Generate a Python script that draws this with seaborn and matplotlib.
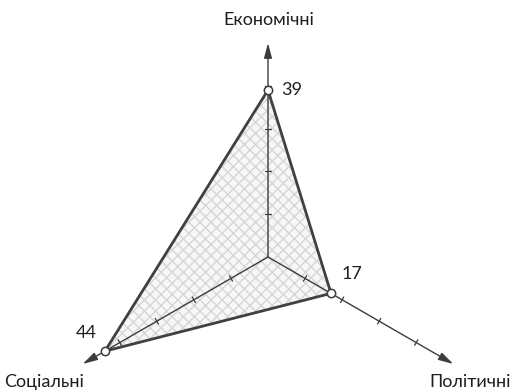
import numpy as np
import pandas as pd
import matplotlib
matplotlib.use("Agg")
import matplotlib.pyplot as plt
import seaborn as sns

categories = ["Економічні", "Політичні", "Соціальні"]
values = [39, 17, 44]
angles_deg = [90, -30, 210]
tick_values = [10, 20, 30, 40]
axis_max = 50

sns.set_theme(style="white")
plt.rcParams["font.family"] = ["Lato", "DejaVu Sans"]
plt.rcParams["hatch.linewidth"] = 1.0

W, H, dpi = 512, 392, 100
scale = 4.28  # px per unit
cx, cy = 268, 257
fig = plt.figure(figsize=(W / dpi, H / dpi), dpi=dpi)
ax = fig.add_axes([0, 0, 1, 1])
ax.set_xlim(-cx / scale, (W - cx) / scale)
ax.set_ylim(-(H - cy) / scale, cy / scale)
ax.set_aspect("equal")
ax.axis("off")

ang = np.deg2rad(angles_deg)
df = pd.DataFrame({
    "category": categories,
    "value": values,
    "x": np.array(values) * np.cos(ang),
    "y": np.array(values) * np.sin(ang),
})

dark = "#3c3c3c"
# polygon fill with checkered hatch
ax.fill(df["x"], df["y"], facecolor="#f7f7f7", hatch="xxx", edgecolor="#d6d6d6",
        linewidth=0, zorder=1)

# axes with arrows
for a in ang:
    ax.annotate("", xy=(axis_max * np.cos(a), axis_max * np.sin(a)), xytext=(0, 0),
                arrowprops=dict(arrowstyle="-|>,head_length=0.75,head_width=0.2",
                                color=dark, lw=1.0, shrinkA=0, shrinkB=0), zorder=2)
    px, py = -np.sin(a), np.cos(a)
    for t in tick_values:
        tx, ty = t * np.cos(a), t * np.sin(a)
        ax.plot([tx - 0.75 * px, tx + 0.75 * px], [ty - 0.75 * py, ty + 0.75 * py],
                color=dark, lw=0.9, zorder=2)

# polygon outline
closed = pd.concat([df, df.iloc[[0]]], ignore_index=True)
sns.lineplot(data=closed, x="x", y="y", sort=False, color="#404040", lw=2.0, ax=ax,
             estimator=None, zorder=3)
sns.scatterplot(data=df, x="x", y="y", s=36, color="white", edgecolor=dark,
                linewidth=1.1, ax=ax, zorder=4)
ax.set_xlabel("")
ax.set_ylabel("")

# value labels
offsets = [(5.6, 0.0), (4.9, 4.5), (-4.3, 4.2)]
for (xv, yv, v), (dx, dy) in zip(df[["x", "y", "value"]].values, offsets):
    ax.text(xv + dx, yv + dy, f"{int(v)}", fontsize=13, color="#1e1e1e",
            ha="center", va="center")

def px2d(x, y):
    return (x - cx) / scale, (cy - y) / scale

lab = [(269, 20), (470, 382), (44, 382)]
for c, (x, y) in zip(categories, lab):
    X, Y = px2d(x, y)
    ax.text(X, Y, c, fontsize=13, color="#1e1e1e", ha="center", va="center")

fig.savefig("out.png", dpi=dpi, facecolor="white")
